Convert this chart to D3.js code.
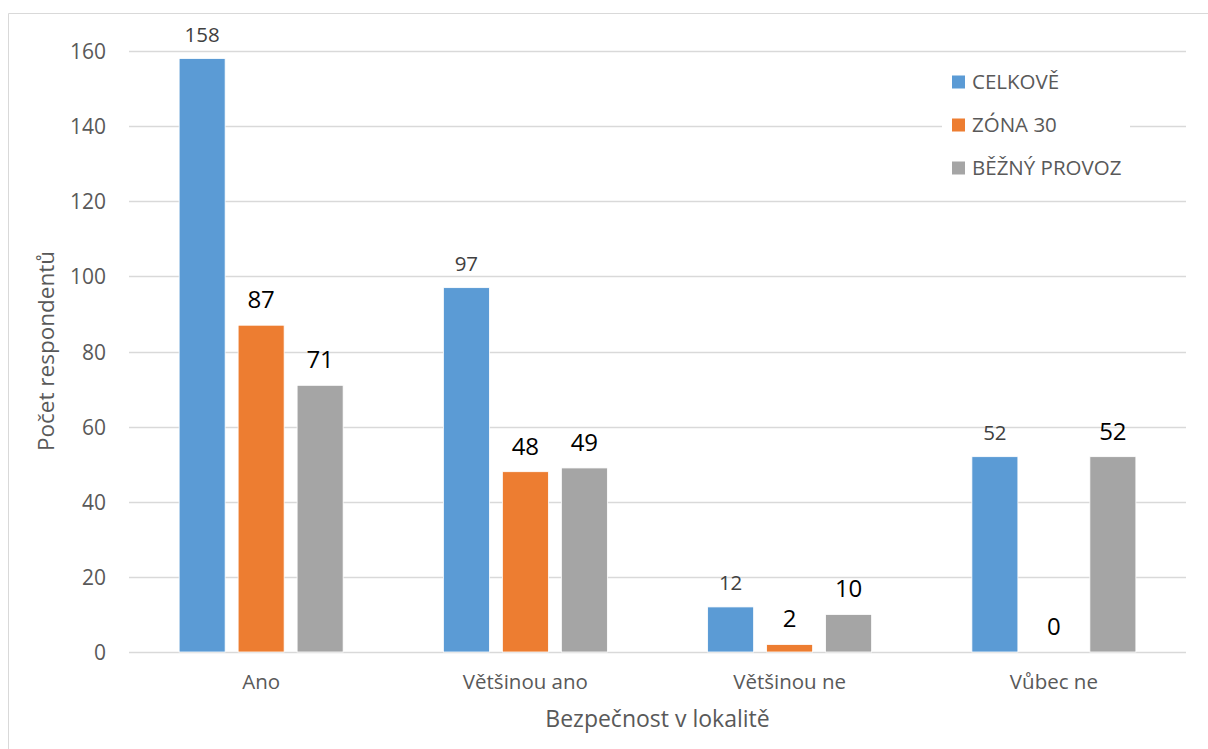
<!DOCTYPE html>
<html>
<head>
<meta charset="utf-8">
<script src="https://cdn.jsdelivr.net/npm/d3@7"></script>
<style>
  html, body { margin: 0; padding: 0; background: #fff; }
  svg { display: block; font-family: "Open Sans", Lato, sans-serif; }
</style>
</head>
<body>
<svg id="chart" width="1208" height="749"></svg>
<script>
// Survey answers: perceived safety in the locality
const categories = ["Ano", "Většinou ano", "Většinou ne", "Vůbec ne"];
const seriesNames = ["CELKOVĚ", "ZÓNA 30", "BĚŽNÝ PROVOZ"];
const celkove = [158, 97, 12, 52];
const zona30 = [87, 48, 2, 0];
const beznyProvoz = [71, 49, 10, 52];
const yTicks = [0, 20, 40, 60, 80, 100, 120, 140, 160];
const seriesColors = ["#5B9BD5", "#ED7D31", "#A5A5A5"];

const seriesValues = [celkove, zona30, beznyProvoz];
const rows = categories.map((c, i) => ({
  category: c,
  values: seriesNames.map((s, k) => ({ series: s, k, value: seriesValues[k][i] }))
}));

const FONT = "'Open Sans', Lato, sans-serif";
const svg = d3.select("#chart");

// chart frame
svg.append("path")
  .attr("d", "M8.5,760 V13.5 H1208")
  .attr("fill", "none")
  .attr("stroke", "#D9D9D9")
  .attr("stroke-width", 1);

const plot = { left: 129, right: 1186, top: 51, bottom: 652 };

const x0 = d3.scaleBand().domain(categories).range([plot.left, plot.right]).padding(0);
const groupWidth = 164;
const x1 = d3.scaleBand().domain(seriesNames)
  .range([(x0.bandwidth() - groupWidth) / 2, (x0.bandwidth() + groupWidth) / 2])
  .paddingInner(0.22).paddingOuter(0);
const y = d3.scaleLinear().domain([0, 160]).range([plot.bottom, plot.top]);

// gridlines
svg.append("g").selectAll("line").data(yTicks).join("line")
  .attr("x1", plot.left).attr("x2", plot.right)
  .attr("y1", d => Math.round(y(d)) + 0.5).attr("y2", d => Math.round(y(d)) + 0.5)
  .attr("stroke", "#D9D9D9").attr("stroke-width", 1.4);

// y axis labels
const yAxis = d3.axisLeft(y).tickValues(yTicks).tickSize(0).tickPadding(0);
const yg = svg.append("g").attr("transform", `translate(106,0)`).call(yAxis);
yg.select(".domain").remove();
yg.selectAll("text").attr("font-size", 21).attr("fill", "#595959")
  .attr("font-family", FONT).attr("dy", "0.36em");

// x axis labels
const xAxis = d3.axisBottom(x0).tickSize(0).tickPadding(0);
const xg = svg.append("g").attr("transform", `translate(0,${plot.bottom})`).call(xAxis);
xg.select(".domain").remove();
xg.selectAll("text").attr("font-size", 20.5).attr("fill", "#595959")
  .attr("font-family", FONT).attr("y", 37).attr("dy", 0);

// bars
const groups = svg.append("g").selectAll("g").data(rows).join("g")
  .attr("transform", d => `translate(${x0(d.category)},0)`);

groups.selectAll("rect").data(d => d.values).join("rect")
  .attr("x", d => x1(d.series))
  .attr("width", x1.bandwidth())
  .attr("y", d => y(d.value))
  .attr("height", d => y(0) - y(d.value))
  .attr("fill", d => seriesColors[d.k])
  .attr("stroke", "#fff").attr("stroke-width", 0.8);

// value labels
groups.selectAll("text").data(d => d.values).join("text")
  .attr("x", d => x1(d.series) + x1.bandwidth() / 2)
  .attr("y", d => y(d.value) - 17)
  .attr("text-anchor", "middle")
  .attr("font-size", d => d.k === 0 ? 20.5 : 24)
  .attr("fill", d => d.k === 0 ? "#404040" : "#000")
  .text(d => d.value);

// axis titles
svg.append("text")
  .attr("x", (plot.left + plot.right) / 2).attr("y", 727)
  .attr("text-anchor", "middle").attr("font-size", 23).attr("fill", "#595959")
  .text("Bezpečnost v lokalitě");

svg.append("text")
  .attr("transform", "translate(54,351) rotate(-90)")
  .attr("text-anchor", "middle").attr("font-size", 22.5).attr("fill", "#595959")
  .text("Počet respondentů");

// legend
const legend = svg.append("g");
legend.append("rect")
  .attr("x", 942).attr("y", 62).attr("width", 188).attr("height", 128)
  .attr("fill", "#fff");
const items = legend.selectAll("g").data(seriesNames).join("g")
  .attr("transform", (d, i) => `translate(952,${82 + i * 43})`);
items.append("rect").attr("x", 0).attr("y", -6.5).attr("width", 13).attr("height", 13)
  .attr("fill", (d, i) => seriesColors[i]);
items.append("text").attr("x", 20).attr("y", 0).attr("dy", "0.36em")
  .attr("font-size", 20.5).attr("fill", "#595959").text(d => d);
</script>
</body>
</html>
